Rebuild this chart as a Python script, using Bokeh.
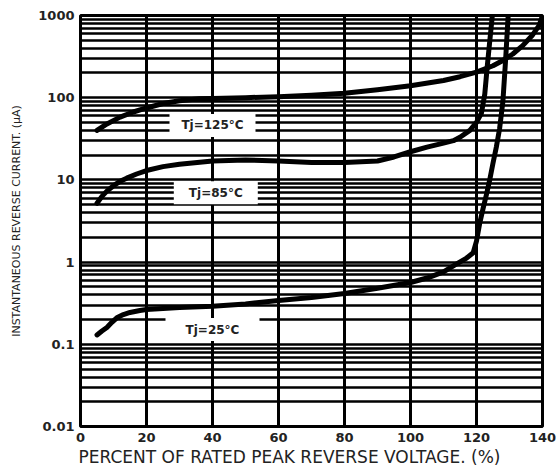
from bokeh.plotting import figure
from bokeh.models import Range1d, FixedTicker, CustomJSTickFormatter, ColumnDataSource, Title
from bokeh.core.properties import value
from bokeh.embed import file_html
from bokeh.resources import INLINE

# ---- data ----
x_125 = [5, 8, 12, 16, 20, 25, 30, 36, 40, 50, 60, 70, 80, 90, 100, 110, 115, 120, 125, 128, 131, 134, 137, 139, 140]
v_125 = [40, 48, 58, 67, 75, 85, 92, 97, 98, 100, 103, 107, 113, 125, 140, 162, 180, 205, 245, 284, 340, 430, 580, 760, 1000]

x_85 = [5, 6.5, 8, 10, 12, 14, 17, 20, 25, 30, 40, 50, 60, 70, 80, 90, 95, 100, 105, 110, 113, 115, 118, 120, 121.5, 122.5, 123.3, 124, 124.8]
v_85 = [5.2, 6.3, 7.3, 8.5, 9.6, 10.5, 11.8, 13, 14.5, 15.5, 17, 17.5, 17, 16.3, 16.3, 17, 19, 22, 25, 28, 30, 33, 40, 50, 65, 110, 250, 480, 1000]

x_25 = [5, 6.5, 8, 9.5, 11, 13, 15, 18, 20, 30, 40, 50, 60, 70, 80, 90, 100, 105, 110, 114, 117, 119, 120, 121, 122, 123, 124, 125, 126, 127, 128, 128.8, 129.6]
v_25 = [0.13, 0.145, 0.16, 0.185, 0.21, 0.23, 0.244, 0.258, 0.265, 0.28, 0.29, 0.31, 0.34, 0.37, 0.415, 0.48, 0.565, 0.64, 0.76, 0.95, 1.12, 1.3, 1.8, 3.0, 4.5, 6.6, 10, 16, 25, 42, 90, 280, 1000]

label_x = [40, 41, 40]
label_y = [46, 7.0, 0.151]
label_text = ["Tj=125°C", "Tj=85°C", "Tj=25°C"]

x_ticks = [0, 20, 40, 60, 80, 100, 120, 140]
y_ticks = [0.01, 0.1, 1, 10, 100, 1000]
x_title = "PERCENT OF RATED PEAK REVERSE VOLTAGE. (%)"
y_title = "INSTANTANEOUS REVERSE CURRENT. (μA)"

# gridlines: 1..9 in every decade
y_grid = [k * d for d in [0.01, 0.1, 1, 10, 100] for k in range(1, 10)] + [1000]

p = figure(width=556, height=466, y_axis_type="log",
           x_range=Range1d(0, 140), y_range=Range1d(0.01, 1000),
           output_backend="svg", toolbar_location=None,
           min_border_left=80, min_border_right=14, min_border_top=15, min_border_bottom=40)

p.background_fill_color = "white"
p.border_fill_color = "white"
p.outline_line_color = "black"
p.outline_line_width = 3

p.xgrid.ticker = FixedTicker(ticks=x_ticks)
p.xgrid.grid_line_color = "black"
p.xgrid.grid_line_width = 3
p.xgrid.grid_line_alpha = 1
p.ygrid.ticker = FixedTicker(ticks=y_grid)
p.ygrid.grid_line_color = "black"
p.ygrid.grid_line_width = 2.5
p.ygrid.grid_line_alpha = 1

p.xaxis.ticker = FixedTicker(ticks=x_ticks)
p.yaxis.ticker = FixedTicker(ticks=y_ticks)
p.yaxis.formatter = CustomJSTickFormatter(code="return String(tick);")

for ax in (p.xaxis, p.yaxis):
    ax.axis_line_color = None
    ax.major_tick_line_color = None
    ax.minor_tick_line_color = None
    ax.major_tick_out = 0
    ax.major_tick_in = 0
    ax.minor_tick_out = 0
    ax.minor_tick_in = 0
    ax.major_label_text_font = "DejaVu Sans"
    ax.major_label_text_font_style = "bold"
    ax.major_label_text_font_size = "13px"
    ax.major_label_text_color = "#222222"
    ax.axis_label_text_font = "DejaVu Sans"
    ax.axis_label_text_font_style = "normal"
    ax.axis_label_text_color = "#222222"

p.xaxis.major_label_standoff = 6
p.yaxis.major_label_standoff = 6
p.yaxis.axis_label = y_title
p.yaxis.axis_label_text_font_size = "11px"
p.yaxis.axis_label_standoff = 12

p.add_layout(Title(text=x_title, align="left", offset=-2, text_font="DejaVu Sans",
                   text_font_size="17px", text_font_style="normal", text_color="#222222",
                   standoff=0), "below")

for xs, vs in ((x_125, v_125), (x_85, v_85), (x_25, v_25)):
    p.line(xs, vs, line_color="black", line_width=5, line_cap="round", line_join="round")

src = ColumnDataSource(dict(x=label_x, y=label_y, t=label_text, w=[86, 84, 94]))
p.rect(x="x", y="y", width="w", height=23, width_units="screen", height_units="screen",
       source=src, fill_color="white", line_color=None)
p.text(x="x", y="y", text="t", source=src, text_align="center", text_baseline="middle",
       text_font=value("DejaVu Sans"), text_font_style="bold", text_font_size="12px",
       text_color="#222222")

open("out.html", "w").write(file_html(p, INLINE))
